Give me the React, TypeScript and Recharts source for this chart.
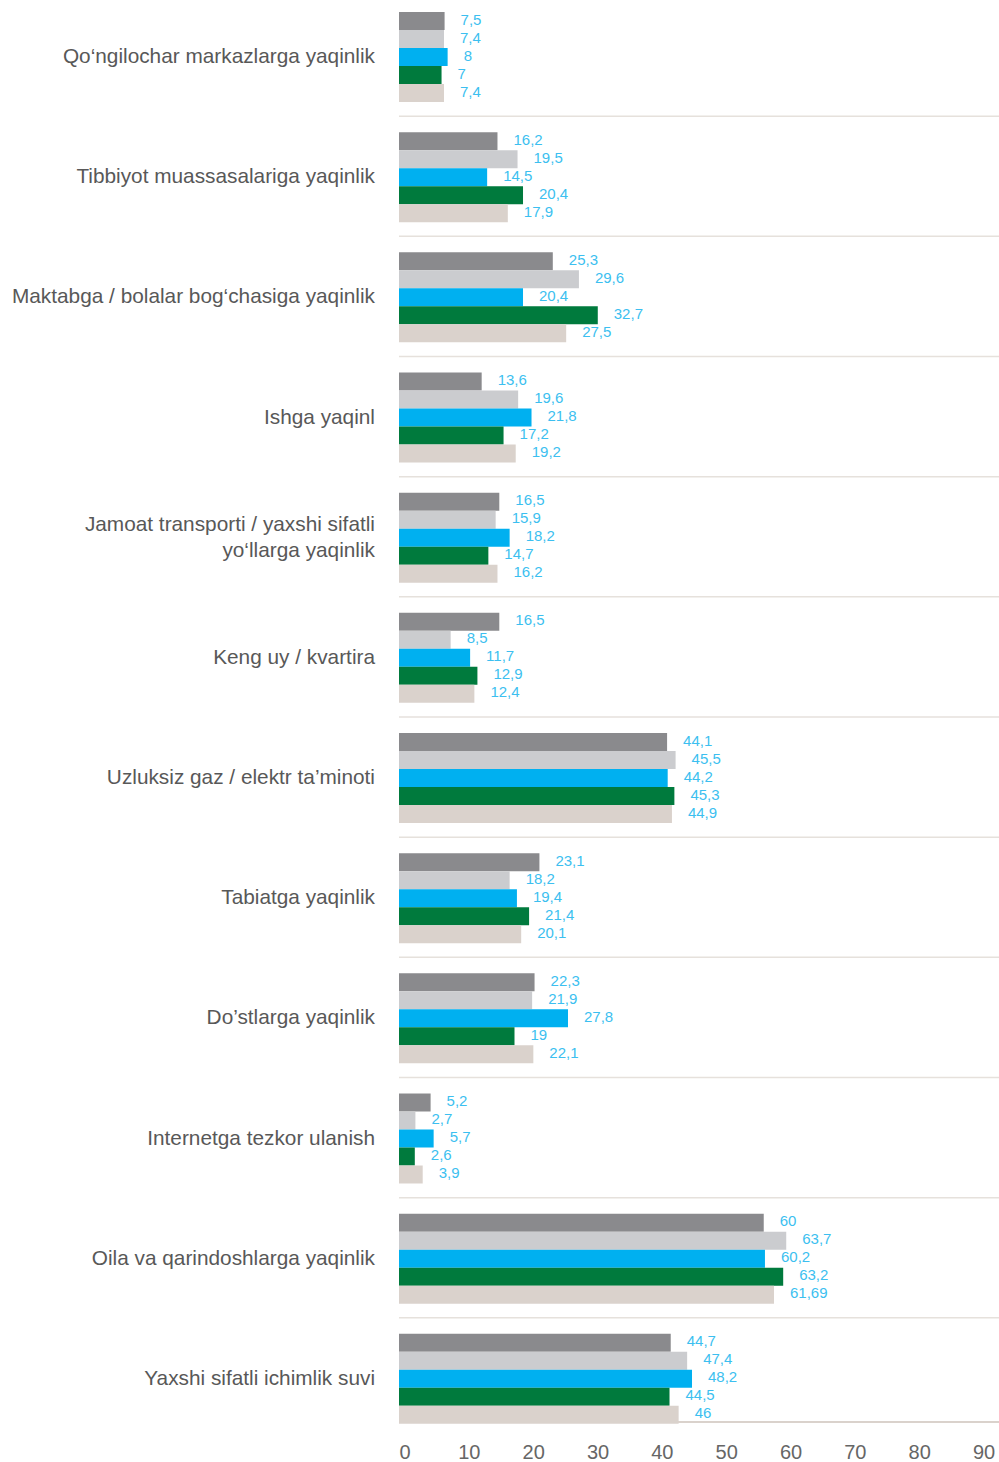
import React from 'react'
import { BarChart, Bar, XAxis, YAxis, ReferenceLine, LabelList } from 'recharts'

const categories = [
  'Qo‘ngilochar markazlarga yaqinlik',
  'Tibbiyot muassasalariga yaqinlik',
  'Maktabga / bolalar bog‘chasiga yaqinlik',
  'Ishga yaqinl',
  'Jamoat transporti / yaxshi sifatli\nyo‘llarga yaqinlik',
  'Keng uy / kvartira',
  'Uzluksiz gaz / elektr ta’minoti',
  'Tabiatga yaqinlik',
  'Do’stlarga yaqinlik',
  'Internetga tezkor ulanish',
  'Oila va qarindoshlarga yaqinlik',
  'Yaxshi sifatli ichimlik suvi',
]

const s1 = [7.5, 16.2, 25.3, 13.6, 16.5, 16.5, 44.1, 23.1, 22.3, 5.2, 60, 44.7]
const s2 = [7.4, 19.5, 29.6, 19.6, 15.9, 8.5, 45.5, 18.2, 21.9, 2.7, 63.7, 47.4]
const s3 = [8, 14.5, 20.4, 21.8, 18.2, 11.7, 44.2, 19.4, 27.8, 5.7, 60.2, 48.2]
const s4 = [7, 20.4, 32.7, 17.2, 14.7, 12.9, 45.3, 21.4, 19, 2.6, 63.2, 44.5]
const s5 = [7.4, 17.9, 27.5, 19.2, 16.2, 12.4, 44.9, 20.1, 22.1, 3.9, 61.69, 46]

const axisTicks = [0, 10, 20, 30, 40, 50, 60, 70, 80, 90]

const rows = categories.map((name, i) => ({
  name,
  s1: s1[i],
  s2: s2[i],
  s3: s3[i],
  s4: s4[i],
  s5: s5[i],
}))

const series = [
  { key: 's1', color: '#8a8a8d' },
  { key: 's2', color: '#cbcccf' },
  { key: 's3', color: '#00b0f0' },
  { key: 's4', color: '#007a3d' },
  { key: 's5', color: '#dad2cc' },
]

const FONT = '"Liberation Sans", Arial, sans-serif'

function CategoryTick({ x, y, payload }: any) {
  const lines = String(payload.value).split('\n')
  const lh = 26
  const start = y - 1 - ((lines.length - 1) * lh) / 2
  return (
    <text x={x} y={start} textAnchor="end" fill="#585858" fontSize={20.8} fontFamily={FONT} dominantBaseline="central">
      {lines.map((l, i) => (
        <tspan key={i} x={x} y={start + i * lh} dominantBaseline="central">{l}</tspan>
      ))}
    </text>
  )
}

// value label: 16px right of the bar end, nudged up a little like the original
function ValueLabel({ x, y, width, height, value }: any) {
  return (
    <text
      x={Number(x) + Number(width) + 16}
      y={Number(y) + Number(height) / 2 - 2}
      fill="#3cbff0"
      fontSize={15}
      fontFamily={FONT}
      dominantBaseline="central"
    >
      {String(value).replace('.', ',')}
    </text>
  )
}

export default function App() {
  return (
    <div>
      <style>{'body{margin:0}'}</style>
      <BarChart
        width={999}
        height={1462}
        data={rows}
        layout="vertical"
        margin={{ top: 0, right: 0, bottom: 0, left: 0 }}
        barGap={0}
        barCategoryGap={16}
      >
        <XAxis xAxisId="bars" type="number" orientation="top" height={0} domain={[0, 98.7]} allowDataOverflow hide />
        <XAxis
          xAxisId="ticks"
          type="number"
          domain={[0, 90]}
          ticks={axisTicks}
          allowDataOverflow
          padding={{ left: 6, right: 15 }}
          height={40}
          tickLine={false}
          tickSize={0}
          tickMargin={23}
          axisLine={{ stroke: '#dad2cc', strokeWidth: 2 }}
          tick={{ fontSize: 20, fill: '#666', fontFamily: FONT }}
        />
        <YAxis
          yAxisId="cat"
          type="category"
          dataKey="name"
          width={399}
          interval={0}
          padding={{ top: -4, bottom: -16 }}
          axisLine={false}
          tickLine={false}
          tickSize={0}
          tickMargin={24}
          tick={<CategoryTick />}
        />
        {categories.slice(0, -1).map((c) => (
          <ReferenceLine
            key={c}
            xAxisId="bars"
            yAxisId="cat"
            y={c}
            position="end"
            stroke="#e6e1dc"
            strokeWidth={1.5}
          />
        ))}
        {series.map((s) => (
          <Bar
            key={s.key}
            dataKey={s.key}
            xAxisId="bars"
            yAxisId="cat"
            fill={s.color}
            isAnimationActive={false}
          >
            <LabelList dataKey={s.key} content={<ValueLabel />} />
          </Bar>
        ))}
      </BarChart>
    </div>
  )
}
